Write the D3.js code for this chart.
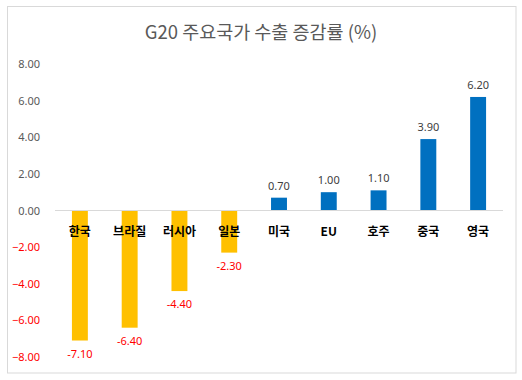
<!DOCTYPE html>
<meta charset="utf-8">
<style>
body { margin: 0; background: #fff; }
text { font-family: "Malgun Gothic", "Noto Sans CJK KR", sans-serif; }
</style>
<body>
<script src="https://d3js.org/d3.v7.min.js"></script>
<script>

var countries = ["한국", "브라질", "러시아", "일본", "미국", "EU", "호주", "중국", "영국"];
var growth = [-7.1, -6.4, -4.4, -2.3, 0.7, 1.0, 1.1, 3.9, 6.2];
var yTicks = [-8, -6, -4, -2, 0, 2, 4, 6, 8];

var width = 522,
    height = 380;

var numFont = "'Noto Sans', 'Open Sans', sans-serif";

var svg = d3.select("body").append("svg")
    .attr("width", width)
    .attr("height", height);

// chart frame
svg.append("rect")
    .attr("x", 7.5).attr("y", 6.5)
    .attr("width", 508.5).attr("height", 366.5)
    .attr("fill", "#fff")
    .attr("stroke", "#d9d9d9");

svg.append("text")
    .attr("x", 261).attr("y", 39)
    .attr("text-anchor", "middle")
    .attr("fill", "#595959")
    .style("font-size", "18.5px")
    .text("G20 주요국가 수출 증감률 (%)");

var x = d3.scaleBand()
    .domain(countries)
    .range([55, 503])
    .paddingInner(0.68)
    .paddingOuter(0.34);

var y = d3.scaleLinear()
    .domain([-8, 8])
    .range([357, 64]);

// y axis labels, no line
var yAxis = svg.append("g")
    .attr("transform", "translate(44,0)")
    .call(d3.axisLeft(y).tickValues(yTicks).tickFormat(d3.format(".2f")).tickSize(0).tickPadding(4));
yAxis.select(".domain").remove();
yAxis.selectAll("text")
    .style("font-family", numFont)
    .style("font-size", "11px")
    .attr("fill", function(d) { return d < 0 ? "#ff0000" : "#595959"; });

svg.selectAll(".bar")
    .data(growth)
  .enter().append("rect")
    .attr("class", "bar")
    .attr("x", function(d, i) { return x(countries[i]); })
    .attr("width", x.bandwidth())
    .attr("y", function(d) { return y(Math.max(0, d)); })
    .attr("height", function(d) { return Math.abs(y(d) - y(0)); })
    .attr("fill", function(d) { return d < 0 ? "#ffc000" : "#0070c0"; });

// zero line
svg.append("line")
    .attr("x1", 55).attr("x2", 503)
    .attr("y1", y(0)).attr("y2", y(0))
    .attr("stroke", "#d9d9d9");

// category labels next to axis
svg.selectAll(".cat")
    .data(countries)
  .enter().append("text")
    .attr("class", "cat")
    .attr("x", function(d) { return x(d) + x.bandwidth() / 2; })
    .attr("y", y(0) + 25)
    .attr("text-anchor", "middle")
    .attr("fill", "#000")
    .style("font-size", "12px")
    .style("font-weight", "bold")
    .text(function(d) { return d; });

// value labels
svg.selectAll(".val")
    .data(growth)
  .enter().append("text")
    .attr("class", "val")
    .attr("x", function(d, i) { return x(countries[i]) + x.bandwidth() / 2; })
    .attr("y", function(d) { return d < 0 ? y(d) + 17 : y(d) - 8; })
    .attr("text-anchor", "middle")
    .attr("fill", function(d) { return d < 0 ? "#ff0000" : "#404040"; })
    .style("font-family", numFont)
    .style("font-size", "11px")
    .text(function(d) { return d.toFixed(2); });

</script>
